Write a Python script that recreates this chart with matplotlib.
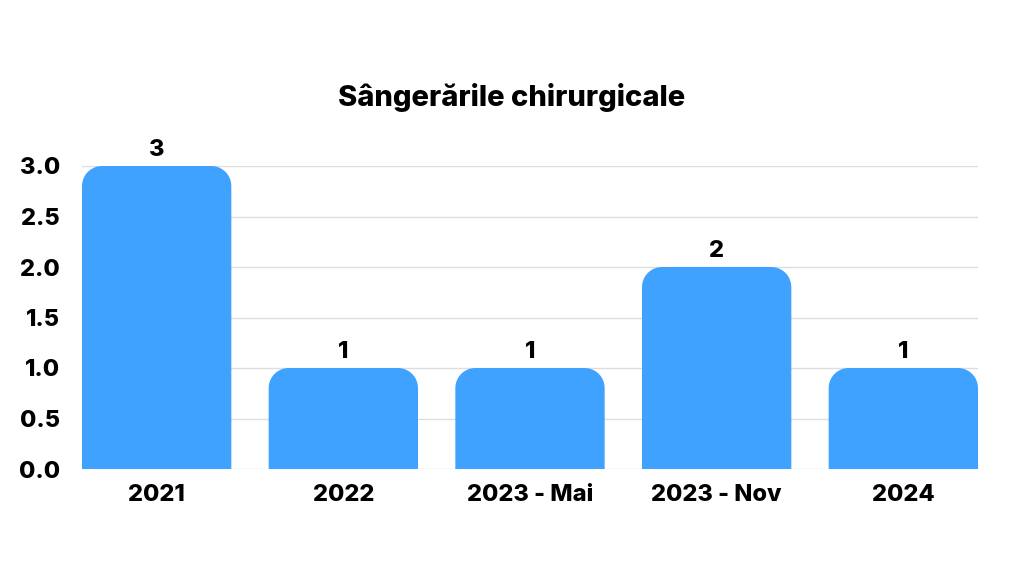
import matplotlib.pyplot as plt
from matplotlib.patches import Polygon
import numpy as np

# ---------- Data ----------
categories = ["2021", "2022", "2023 - Mai", "2023 - Nov", "2024"]
values = [3, 1, 1, 2, 1]
title = "Sângerările chirurgicale"
bar_color = "#40A2FF"

plt.rcParams['font.family'] = ['Inter', 'DejaVu Sans']
W = 'heavy'

fig = plt.figure(figsize=(10.24, 5.76), dpi=100)
ax = fig.add_axes([82 / 1024, 107 / 576, 896 / 1024, 303 / 576])

bar_w = 0.8
ax.set_xlim(-0.4, len(categories) - 0.6)
ax.set_ylim(0, 3)

# rounded-top bars: radius in pixels converted to data units
fig.canvas.draw()
bbox = ax.get_window_extent()
px_x = bbox.width / (ax.get_xlim()[1] - ax.get_xlim()[0])
px_y = bbox.height / (ax.get_ylim()[1] - ax.get_ylim()[0])
r_px = 20
rx, ry = r_px / px_x, r_px / px_y

def rounded_bar(x, h):
    x0, x1 = x - bar_w / 2, x + bar_w / 2
    ryh = min(ry, h)
    pts = [(x0, 0)]
    t = np.linspace(np.pi, np.pi / 2, 12)
    pts += [(x0 + rx + rx * np.cos(a), h - ryh + ryh * np.sin(a)) for a in t]
    t = np.linspace(np.pi / 2, 0, 12)
    pts += [(x1 - rx + rx * np.cos(a), h - ryh + ryh * np.sin(a)) for a in t]
    pts.append((x1, 0))
    return Polygon(pts, closed=True, facecolor=bar_color, edgecolor='none', zorder=3)

for i, v in enumerate(values):
    ax.add_patch(rounded_bar(i, v))
    ax.text(i, v + 0.05, str(v), ha='center', va='bottom',
            fontsize=17, fontweight=W, color='black')

ax.set_xticks(range(len(categories)))
ax.set_xticklabels(categories, fontsize=17, fontweight=W)
ax.set_yticks(np.arange(0, 3.01, 0.5))
ax.set_yticklabels([f"{t:.1f}" for t in np.arange(0, 3.01, 0.5)], fontsize=17, fontweight=W)
ax.tick_params(axis='both', length=0)
ax.tick_params(axis='x', pad=11)
ax.tick_params(axis='y', pad=16)

for s in ax.spines.values():
    s.set_visible(False)
ax.grid(axis='y', color='#dddddd', linewidth=1, zorder=0)
ax.set_axisbelow(True)

fig.text(0.5, 1 - 97 / 576, title, ha='center', va='center',
         fontsize=21, fontweight=W)

fig.savefig("out.png", dpi=100, facecolor='white')
